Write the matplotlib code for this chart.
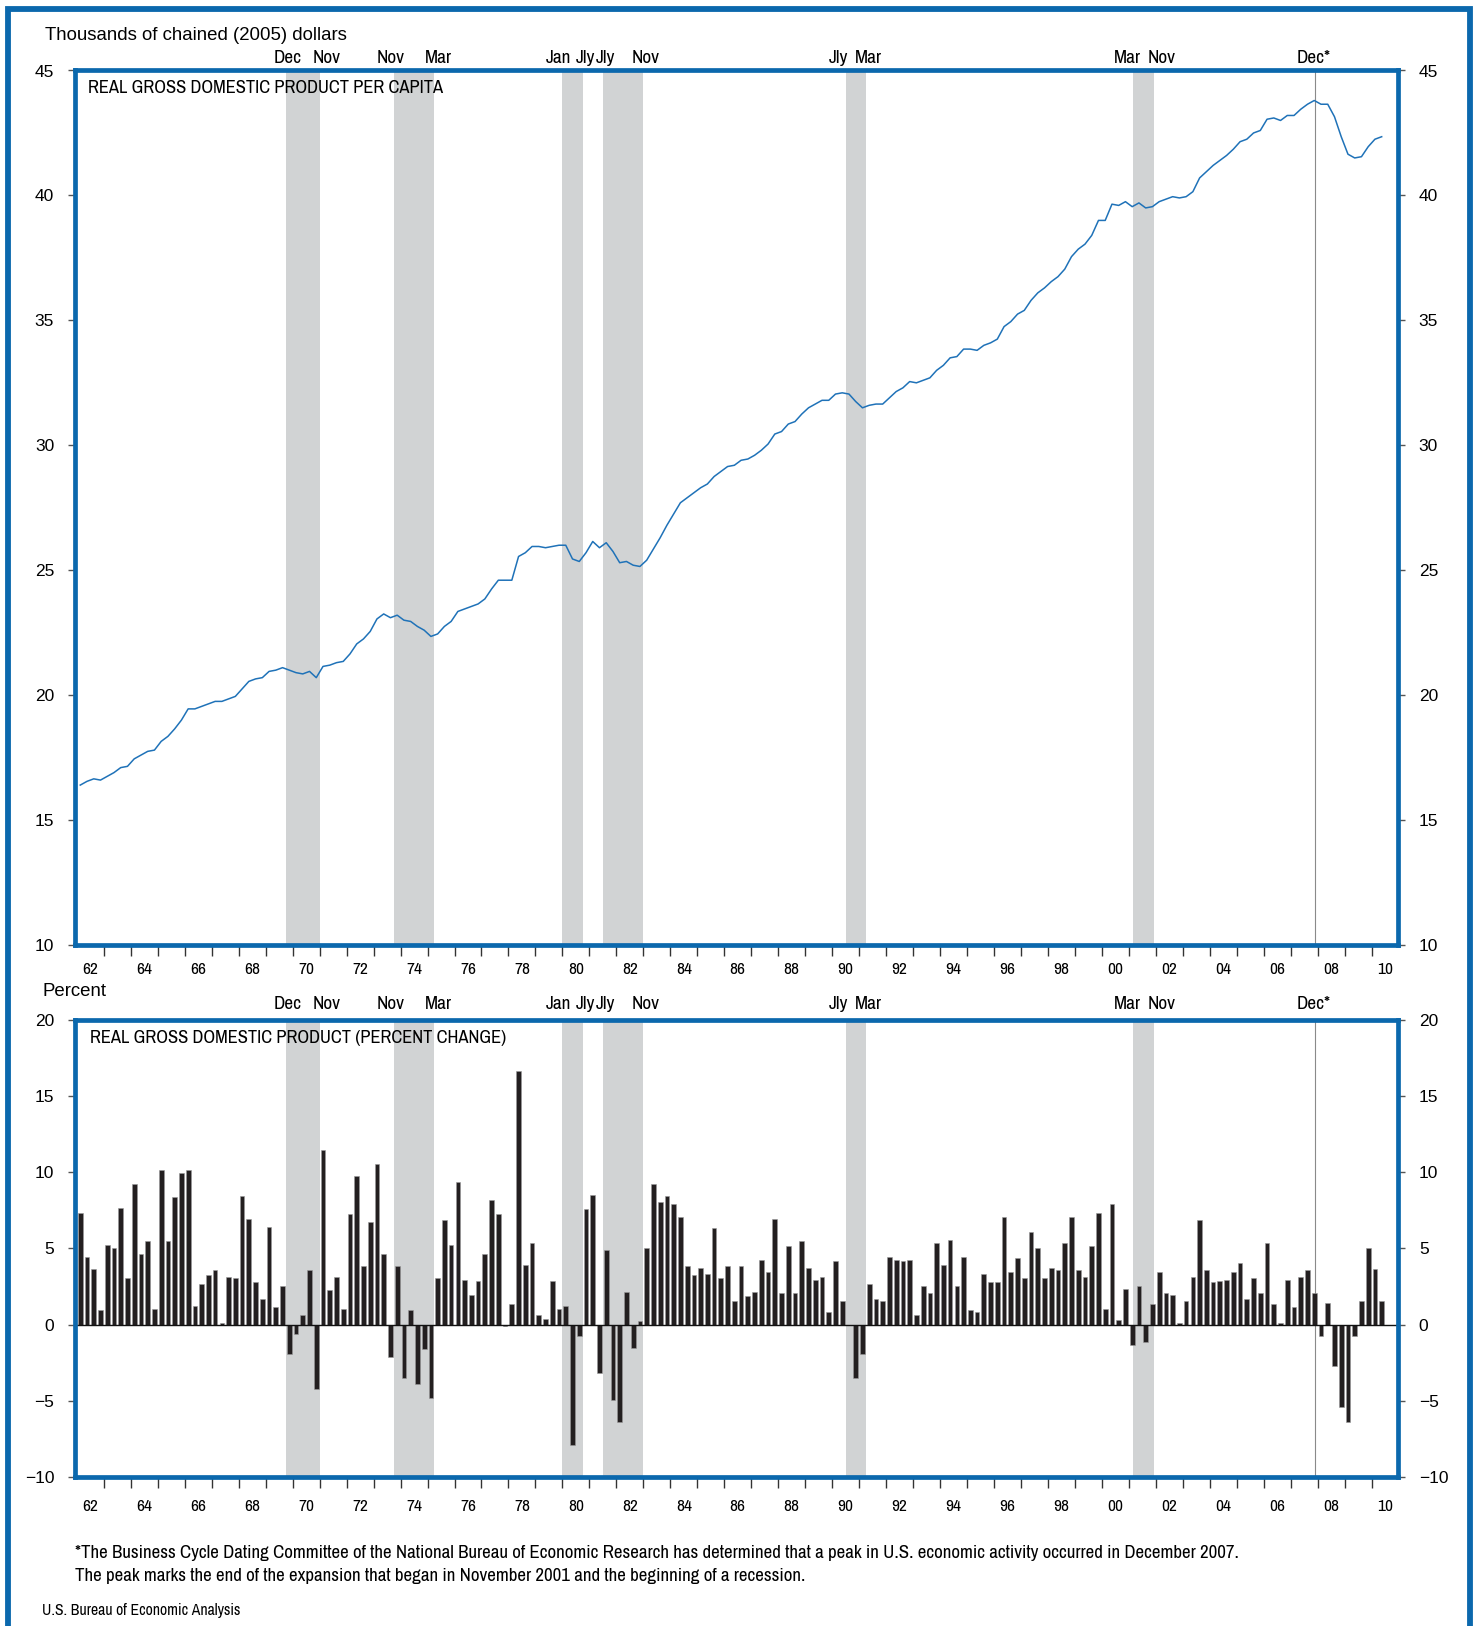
import os
import numpy as np
import matplotlib
matplotlib.use("Agg")
import matplotlib.pyplot as plt
from matplotlib import transforms, font_manager
from matplotlib.font_manager import FontProperties
from matplotlib.lines import Line2D

# ---- data (quarterly, 1962Q1 - 2010Q2) ----
start_year = 1962

# real GDP per capita, thousands of chained (2005) dollars
gdp_pc = [
    16.40, 16.55, 16.65, 16.60,  16.75, 16.90, 17.10, 17.15,  17.45, 17.60, 17.75, 17.80,
    18.15, 18.35, 18.65, 19.00,  19.45, 19.45, 19.55, 19.65,  19.75, 19.75, 19.85, 19.95,
    20.25, 20.55, 20.65, 20.70,  20.95, 21.00, 21.10, 21.00,  20.90, 20.85, 20.95, 20.70,
    21.15, 21.20, 21.30, 21.35,  21.65, 22.05, 22.25, 22.55,  23.05, 23.25, 23.10, 23.20,
    23.00, 22.95, 22.75, 22.60,  22.35, 22.45, 22.75, 22.95,  23.35, 23.45, 23.55, 23.65,
    23.85, 24.25, 24.60, 24.60,  24.60, 25.55, 25.70, 25.95,  25.95, 25.90, 25.95, 26.00,
    26.00, 25.45, 25.35, 25.70,  26.15, 25.90, 26.10, 25.75,  25.30, 25.35, 25.20, 25.15,
    25.40, 25.85, 26.30, 26.80,  27.25, 27.70, 27.90, 28.10,  28.30, 28.45, 28.75, 28.95,
    29.15, 29.20, 29.40, 29.45,  29.60, 29.80, 30.05, 30.45,  30.55, 30.85, 30.95, 31.25,
    31.50, 31.65, 31.80, 31.80,  32.05, 32.10, 32.05, 31.75,  31.50, 31.60, 31.65, 31.65,
    31.90, 32.15, 32.30, 32.55,  32.50, 32.60, 32.70, 33.00,  33.20, 33.50, 33.55, 33.85,
    33.85, 33.80, 34.00, 34.10,  34.25, 34.75, 34.95, 35.25,  35.40, 35.80, 36.10, 36.30,
    36.55, 36.75, 37.05, 37.55,  37.85, 38.05, 38.40, 39.00,  39.00, 39.65, 39.60, 39.75,
    39.55, 39.70, 39.50, 39.55,  39.75, 39.85, 39.95, 39.90,  39.95, 40.15, 40.70, 40.95,
    41.20, 41.40, 41.60, 41.85,  42.15, 42.25, 42.50, 42.60,  43.05, 43.10, 43.00, 43.20,
    43.20, 43.45, 43.65, 43.80,  43.65, 43.65, 43.15, 42.35,  41.65, 41.50, 41.55, 41.95,
    42.25, 42.35,
]

# real GDP, percent change at annual rate
gdp_pct = [
    7.33, 4.44, 3.65, 0.94,  5.23, 5.03, 7.64, 3.04,  9.23, 4.64, 5.45, 1.05,
    10.13, 5.45, 8.34, 9.93,  10.13, 1.24, 2.67, 3.26,  3.57, 0.07, 3.15, 3.04,
    8.45, 6.94, 2.76, 1.66,  6.43, 1.16, 2.56, -1.90,  -0.61, 0.66, 3.57, -4.20,
    11.42, 2.25, 3.15, 1.05,  7.24, 9.74, 3.85, 6.74,  10.53, 4.64, -2.12, 3.85,
    -3.50, 0.96, -3.92, -1.62,  -4.81, 3.06, 6.85, 5.25,  9.32, 2.95, 1.95, 2.87,
    4.64, 8.14, 7.24, -0.11,  1.36, 16.61, 3.94, 5.34,  0.66, 0.35, 2.87, 1.05,
    1.25, -7.87, -0.72, 7.55,  8.53, -3.19, 4.86, -4.92,  -6.39, 2.14, -1.53, 0.24,
    5.05, 9.23, 8.03, 8.45,  7.94, 7.05, 3.85, 3.26,  3.74, 3.35, 6.35, 3.06,
    3.85, 1.55, 3.85, 1.86,  2.14, 4.25, 3.46, 6.94,  2.06, 5.14, 2.06, 5.45,
    3.74, 2.95, 3.15, 0.85,  4.16, 1.55, -0.05, -3.50,  -1.90, 2.67, 1.66, 1.55,
    4.44, 4.25, 4.16, 4.25,  0.66, 2.56, 2.06, 5.34,  3.94, 5.56, 2.56, 4.44,
    0.96, 0.85, 3.35, 2.76,  2.76, 7.05, 3.46, 4.35,  3.06, 6.04, 5.05, 3.06,
    3.74, 3.57, 5.34, 7.05,  3.57, 3.15, 5.14, 7.33,  1.05, 7.94, 0.31, 2.36,
    -1.31, 2.56, -1.12, 1.36,  3.46, 2.06, 1.95, 0.07,  1.55, 3.15, 6.85, 3.57,
    2.76, 2.87, 2.95, 3.46,  4.05, 1.66, 3.06, 2.06,  5.34, 1.36, 0.07, 2.95,
    1.16, 3.15, 3.57, 2.06,  -0.72, 1.44, -2.71, -5.40,  -6.39, -0.72, 1.55, 5.03,
    3.65, 1.55,
]

# recessions (shaded), in decimal years
rec_start = [1969.75, 1973.75, 1980.00, 1981.50, 1990.50, 2001.17]
rec_end = [1971.00, 1975.25, 1980.75, 1983.00, 1991.25, 2001.92]
peak_2007 = 2007.92

# month labels above the panels
rec_labels = ["Dec", "Nov", "Nov", "Mar", "Jan", "Jly", "Jly", "Nov", "Jly", "Mar", "Mar", "Nov", "Dec*"]
rec_label_x = [1969.80, 1971.26, 1973.62, 1975.40, 1979.85, 1980.84, 1981.60, 1983.07,
               1990.22, 1991.33, 2000.93, 2002.23, 2007.87]

year_labels = ["62", "64", "66", "68", "70", "72", "74", "76", "78", "80", "82", "84",
               "86", "88", "90", "92", "94", "96", "98", "00", "02", "04", "06", "08", "10"]

# ---- style ----
BLUE = "#0b68ad"
LINE_BLUE = "#1f72b8"
GRAY = "#d1d3d4"
BAR = "#231f20"

REG = "Liberation Sans"
plt.rcParams["font.family"] = [REG, "DejaVu Sans"]

# look for a condensed face; otherwise shrink the regular one a little
narrow_file = None
for f in font_manager.fontManager.ttflist:
    base = os.path.basename(f.fname)
    if "Narrow" in base and "Bold" not in base and "Italic" not in base:
        narrow_file = f.fname
        break
if narrow_file is None:
    for f in font_manager.fontManager.ttflist:
        base = os.path.basename(f.fname)
        if base == "DejaVuSansCondensed.ttf":
            narrow_file = f.fname
            break
k = 1.0 if narrow_file else 0.88


def nfont(size):
    if narrow_file:
        return FontProperties(fname=narrow_file, size=size)
    return FontProperties(family=REG, size=size * k)


W, H = 1476, 1626
fig = plt.figure(figsize=(W / 100, H / 100), dpi=100)


def box(l, t, r, b):
    return [l / W, 1 - b / H, (r - l) / W, (b - t) / H]


quarters = start_year + (np.arange(len(gdp_pc)) + 0.5) / 4
label_pos = [start_year + 0.5 + 2 * i for i in range(len(year_labels))]

ax1 = fig.add_axes(box(75, 70.5, 1398, 945))
ax2 = fig.add_axes(box(75, 1019.7, 1398, 1477))

for ax, lab_y, xpad in [(ax1, 58, 12.5), (ax2, 1004, 15.5)]:
    ax.set_xlim(1961.93, 2010.98)
    for s, e in zip(rec_start, rec_end):
        ax.axvspan(s, e, color=GRAY, lw=0, zorder=0)
    ax.axvline(peak_2007, color="#8a8a8a", lw=0.8, zorder=1)
    for sp in ax.spines.values():
        sp.set_color(BLUE)
        sp.set_linewidth(3.4)
        sp.set_zorder(5)
    ax.set_xticks(np.arange(1963, 2011))
    ax.set_xticks(label_pos, labels=year_labels, minor=True)
    ax.tick_params(axis="x", which="major", direction="out", length=8, width=1,
                   color="#333333", labelbottom=False)
    ax.tick_params(axis="x", which="minor", length=0, pad=xpad)
    for t in ax.get_xticklabels(minor=True):
        t.set_fontproperties(nfont(12.5))
    ax.tick_params(axis="y", which="major", left=True, right=True, labelleft=True,
                   labelright=True, direction="out", length=5, width=1,
                   color="#555555", pad=10, labelsize=12.5)
    trans = transforms.blended_transform_factory(ax.transData, fig.transFigure)
    for txt, x in zip(rec_labels, rec_label_x):
        ax.text(x, 1 - lab_y / H, txt, transform=trans, ha="center", va="center",
                fontproperties=nfont(13.8))

# top panel: per capita level
ax1.set_ylim(10, 45)
ax1.set_yticks(np.arange(10, 46, 5))
ax1.plot(quarters, gdp_pc, color=LINE_BLUE, lw=1.1, zorder=3)

# bottom panel: percent change
ax2.set_ylim(-10, 20)
ax2.set_yticks(np.arange(-10, 21, 5))
ax2.bar(quarters, gdp_pct, width=0.175, color=BAR, edgecolor="#9a9a9a",
        linewidth=0.4, zorder=3)
ax2.axhline(0, color="#111111", lw=1.0, zorder=4)

# titles and notes
fig.text(45 / W, 1 - 36 / H, "Thousands of chained (2005) dollars", ha="left", va="center",
         fontsize=13.4)
fig.text(42 / W, 1 - 991 / H, "Percent", ha="left", va="center", fontsize=13.4)
fig.text(88 / W, 1 - 88 / H, "REAL GROSS DOMESTIC PRODUCT PER CAPITA", ha="left",
         va="center", fontproperties=nfont(13.3))
fig.text(90 / W, 1 - 1038 / H, "REAL GROSS DOMESTIC PRODUCT (PERCENT CHANGE)", ha="left",
         va="center", fontproperties=nfont(13.3))
fig.text(75 / W, 1 - 1553 / H,
         "*The Business Cycle Dating Committee of the National Bureau of Economic Research "
         "has determined that a peak in U.S. economic activity occurred in December 2007.",
         ha="left", va="center", fontproperties=nfont(13.6))
fig.text(75 / W, 1 - 1576 / H,
         "The peak marks the end of the expansion that began in November 2001 and the "
         "beginning of a recession.",
         ha="left", va="center", fontproperties=nfont(13.6))
fig.text(42 / W, 1 - 1610 / H, "U.S. Bureau of Economic Analysis", ha="left", va="center",
         fontproperties=nfont(11.3))

# outer frame (open at the bottom)
fx = [8 / W, 8 / W, 1470 / W, 1470 / W]
fy = [0, 1 - 9 / H, 1 - 9 / H, 0]
fig.add_artist(Line2D(fx, fy, transform=fig.transFigure, color=BLUE, lw=4.2,
                      solid_joinstyle="miter"))

fig.savefig("out.png", dpi=100, facecolor="white")
